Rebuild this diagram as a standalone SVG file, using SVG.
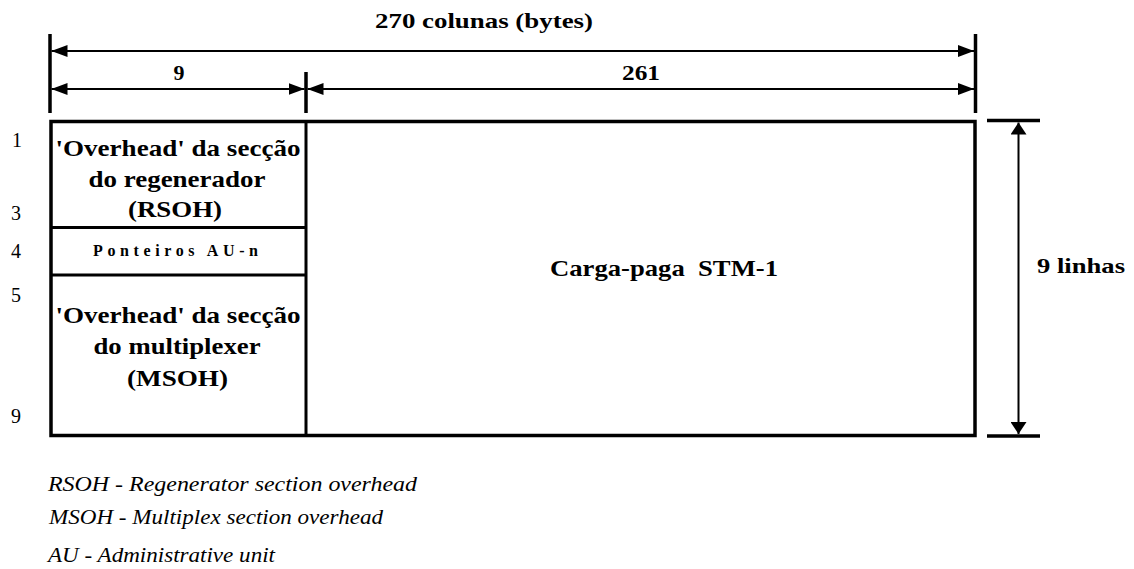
<svg xmlns="http://www.w3.org/2000/svg" width="1134" height="569" viewBox="0 0 1134 569">
<style>
.bg{fill:#fff}
.box{fill:#fff;stroke:#000;stroke-width:3.5}
.div{stroke:#000;stroke-width:3;fill:none}
.dim{stroke:#000;stroke-width:2;fill:none}
.tick{stroke:#000;stroke-width:3.5;fill:none}
.t{font-family:'Liberation Serif','Times New Roman','DejaVu Serif',serif;fill:#000}
.b{font-weight:bold}
.i{font-style:italic}
.m{text-anchor:middle}
</style>
<defs>
<marker id="ah" viewBox="0 0 16 12" markerWidth="16" markerHeight="12" refX="16" refY="6" orient="auto-start-reverse" markerUnits="userSpaceOnUse">
<path d="M0,0 L16,6 L0,12 z" fill="#000"/>
</marker>
<marker id="av" viewBox="0 0 12 16" markerWidth="12" markerHeight="16" refX="12" refY="8" orient="auto-start-reverse" markerUnits="userSpaceOnUse">
<path d="M0,0 L12,8 L0,16 z" fill="#000"/>
</marker>
</defs>
<rect class="bg" x="0" y="0" width="1134" height="569"/>

<g id="frame">
<rect class="box" x="51" y="121.5" width="924" height="314"/>
</g>

<g id="rsoh">
<text class="t b m" x="178" y="156" font-size="24" textLength="245" lengthAdjust="spacingAndGlyphs">'Overhead' da secção</text>
<text class="t b m" x="177" y="187" font-size="24" textLength="177" lengthAdjust="spacingAndGlyphs">do regenerador</text>
<text class="t b m" x="175" y="217" font-size="24" textLength="94" lengthAdjust="spacingAndGlyphs">(RSOH)</text>
</g>

<g id="pointers">
<text class="t b m" x="175.5" y="256" font-size="16" textLength="165" lengthAdjust="spacing">Ponteiros AU-n</text>
</g>

<g id="msoh">
<text class="t b m" x="178" y="323" font-size="24" textLength="245" lengthAdjust="spacingAndGlyphs">'Overhead' da secção</text>
<text class="t b m" x="177" y="354" font-size="24" textLength="167" lengthAdjust="spacingAndGlyphs">do multiplexer</text>
<text class="t b m" x="177.5" y="386" font-size="24" textLength="101" lengthAdjust="spacingAndGlyphs">(MSOH)</text>
</g>

<g id="payload">
<text class="t b m" x="664" y="276" font-size="24" textLength="228" lengthAdjust="spacingAndGlyphs" xml:space="preserve">Carga-paga  STM-1</text>
</g>

<g id="connectors">
<line class="div" x1="306" y1="121.5" x2="306" y2="435.5"/>
<line class="div" x1="51" y1="227.5" x2="306" y2="227.5"/>
<line class="div" x1="51" y1="275" x2="306" y2="275"/>
<line class="tick" x1="50" y1="34" x2="50" y2="113"/>
<line class="tick" x1="975.5" y1="34" x2="975.5" y2="113"/>
<line class="tick" x1="306" y1="72" x2="306" y2="113"/>
<line class="dim" x1="51.5" y1="51" x2="974" y2="51" marker-start="url(#ah)" marker-end="url(#ah)"/>
<line class="dim" x1="51.5" y1="89" x2="304.5" y2="89" marker-start="url(#ah)" marker-end="url(#ah)"/>
<line class="dim" x1="307.5" y1="89" x2="974" y2="89" marker-start="url(#ah)" marker-end="url(#ah)"/>
<line class="tick" x1="987" y1="120.5" x2="1040" y2="120.5"/>
<line class="tick" x1="987" y1="436" x2="1040" y2="436"/>
<line class="dim" x1="1018.5" y1="122.5" x2="1018.5" y2="434" stroke-width="2.5" marker-start="url(#av)" marker-end="url(#av)"/>
</g>

<g id="labels">
<text class="t b m" x="484" y="28" font-size="22" textLength="218" lengthAdjust="spacingAndGlyphs">270 colunas (bytes)</text>
<text class="t b m" x="179" y="80" font-size="22">9</text>
<text class="t b m" x="641" y="80" font-size="22" textLength="38" lengthAdjust="spacingAndGlyphs">261</text>
<text class="t b" x="1037" y="273" font-size="22" textLength="88" lengthAdjust="spacingAndGlyphs">9 linhas</text>
<text class="t" x="12" y="147" font-size="20">1</text>
<text class="t" x="11" y="220" font-size="20">3</text>
<text class="t" x="11" y="258" font-size="20">4</text>
<text class="t" x="11" y="302" font-size="20">5</text>
<text class="t" x="11" y="423" font-size="20">9</text>
</g>

<g id="legend">
<text class="t i" x="48" y="491" font-size="20" textLength="369" lengthAdjust="spacingAndGlyphs">RSOH - Regenerator section overhead</text>
<text class="t i" x="49" y="524" font-size="20" textLength="334" lengthAdjust="spacingAndGlyphs">MSOH - Multiplex section overhead</text>
<text class="t i" x="48" y="562" font-size="20" textLength="227" lengthAdjust="spacingAndGlyphs">AU - Administrative unit</text>
</g>
</svg>
